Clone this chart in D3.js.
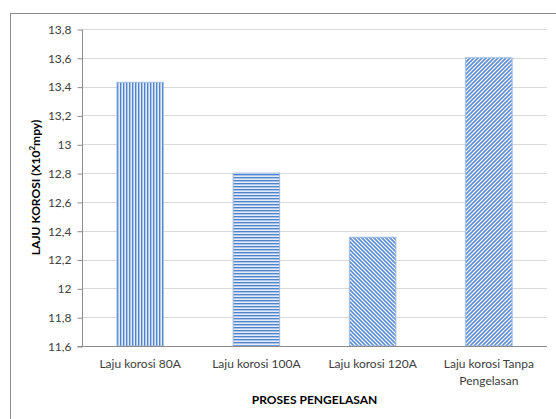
<!DOCTYPE html>
<html>
<head>
<meta charset="utf-8">
<script src="https://cdn.jsdelivr.net/npm/d3@7"></script>
<style>
  body { margin: 0; background: #fff; }
  svg { display: block; }
  text { font-family: Lato, "Open Sans", sans-serif; fill: #404040; }
</style>
</head>
<body>
<svg id="chart" width="556" height="419"></svg>
<script>
// Corrosion rate per welding process
const categories = [["Laju korosi 80A"], ["Laju korosi 100A"], ["Laju korosi 120A"], ["Laju korosi Tanpa", "Pengelasan"]];
const values = [13.43, 12.8, 12.355, 13.6];
const tickValues = [11.6, 11.8, 12, 12.2, 12.4, 12.6, 12.8, 13, 13.2, 13.4, 13.6, 13.8];
const tickLabels = ["11,6", "11,8", "12", "12,2", "12,4", "12,6", "12,8", "13", "13,2", "13,4", "13,6", "13,8"];
const patternIds = ["pv", "ph", "pd1", "pd2"];

const svg = d3.select("#chart");
const margin = { left: 82, right: 9, top: 29, bottom: 73 };
const W = 556, H = 419;
const fs = 12;

// outer frame
svg.append("rect").attr("x", 10.5).attr("y", 13.5).attr("width", 600).attr("height", 500)
  .attr("fill", "none").attr("stroke", "#8c8c8c").attr("stroke-width", 1);

// fill patterns
const defs = svg.append("defs");
const dark = "#5283c8", light = "#a9c5ec";
const pv = defs.append("pattern").attr("id", "pv").attr("patternUnits", "userSpaceOnUse")
  .attr("width", 3).attr("height", 3);
pv.append("rect").attr("width", 3).attr("height", 3).attr("fill", "#e2ebf8");
pv.append("rect").attr("x", 0).attr("width", 1).attr("height", 3).attr("fill", dark);
pv.append("rect").attr("x", 1).attr("width", 1).attr("height", 3).attr("fill", light);

const ph = defs.append("pattern").attr("id", "ph").attr("patternUnits", "userSpaceOnUse")
  .attr("width", 3).attr("height", 3);
ph.append("rect").attr("width", 3).attr("height", 3).attr("fill", "#e2ebf8");
ph.append("rect").attr("y", 0).attr("width", 3).attr("height", 1).attr("fill", dark);
ph.append("rect").attr("y", 1).attr("width", 3).attr("height", 1).attr("fill", light);

function diag(id, dir) {
  const p = defs.append("pattern").attr("id", id).attr("patternUnits", "userSpaceOnUse")
    .attr("width", 4).attr("height", 4);
  p.append("rect").attr("width", 4).attr("height", 4).attr("fill", "#fff");
  const d = dir > 0 ? "M-1,1 l2,-2 M0,4 l4,-4 M3,5 l2,-2" : "M-1,3 l2,2 M0,0 l4,4 M3,-1 l2,2";
  p.append("path").attr("d", d).attr("stroke", "#5f8fd2").attr("stroke-width", 1.6);
}
diag("pd1", -1);
diag("pd2", 1);

const x = d3.scaleBand().domain(d3.range(categories.length))
  .range([margin.left, W - margin.right]).paddingInner(0.6).paddingOuter(0.3);
const y = d3.scaleLinear().domain([11.6, 13.8]).range([H - margin.bottom, margin.top]);

// gridlines
svg.append("g").selectAll("line").data(tickValues.slice(1)).join("line")
  .attr("x1", margin.left).attr("x2", W - margin.right)
  .attr("y1", d => Math.round(y(d)) + 0.5).attr("y2", d => Math.round(y(d)) + 0.5)
  .attr("stroke", "#d9d9d9");

// y axis
const yAxis = d3.axisLeft(y).tickValues(tickValues)
  .tickFormat((d, i) => tickLabels[i]).tickSize(5).tickPadding(6);
const gy = svg.append("g").attr("transform", `translate(${margin.left + 0.5},0.5)`).call(yAxis);
gy.select(".domain").attr("stroke", "#8c8c8c").attr("d", `M-5,${y(11.6)}H0V${y(13.8)}`);
gy.selectAll(".tick line").attr("stroke", "#8c8c8c");
gy.selectAll(".tick text").attr("font-size", fs).attr("fill", "#404040")
  .style("font-family", "Lato, 'Open Sans', sans-serif");

// bars
svg.append("g").selectAll("rect").data(values).join("rect")
  .attr("x", (d, i) => x(i)).attr("width", x.bandwidth())
  .attr("y", d => y(d)).attr("height", d => y(11.6) - y(d))
  .attr("fill", (d, i) => `url(#${patternIds[i]})`)
  .attr("stroke", "#9dbbe5").attr("stroke-width", 1);

// x axis baseline
svg.append("line").attr("x1", margin.left).attr("x2", W - margin.right)
  .attr("y1", Math.round(y(11.6)) + 0.5).attr("y2", Math.round(y(11.6)) + 0.5)
  .attr("stroke", "#8c8c8c");

// category labels
const xl = svg.append("g").selectAll("text").data(categories).join("text")
  .attr("x", (d, i) => x(i) + x.bandwidth() / 2).attr("y", y(11.6) + 22)
  .attr("text-anchor", "middle").attr("font-size", fs);
xl.selectAll("tspan").data(d => d).join("tspan")
  .attr("x", function () { return d3.select(this.parentNode).attr("x"); })
  .attr("dy", (d, i) => i === 0 ? 0 : 17).text(d => d);

// axis titles
svg.append("text").attr("x", (margin.left + W - margin.right) / 2).attr("y", 404)
  .attr("text-anchor", "middle").attr("font-size", fs).attr("font-weight", "bold")
  .style("fill", "#000").text("PROSES PENGELASAN");

const yt = svg.append("text")
  .attr("transform", `translate(40,${(y(11.6) + y(13.8)) / 2}) rotate(-90)`)
  .attr("text-anchor", "middle").attr("font-size", fs).attr("font-weight", "bold")
  .style("fill", "#000");
yt.append("tspan").text("LAJU KOROSI (X10");
yt.append("tspan").attr("baseline-shift", "super").attr("font-size", 8).text("2");
yt.append("tspan").text("mpy)");
</script>
</body>
</html>
